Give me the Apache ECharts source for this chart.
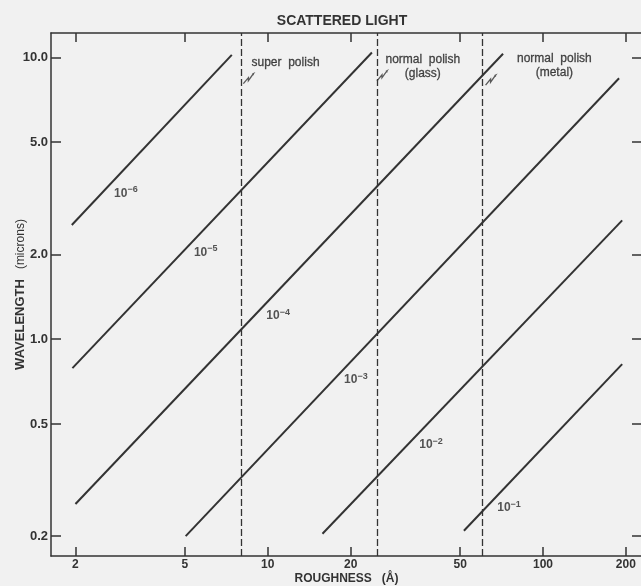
<!DOCTYPE html>
<html>
<head>
<meta charset="utf-8">
<script src="https://cdn.jsdelivr.net/npm/echarts@6/dist/echarts.min.js"></script>
<style>
html,body{margin:0;padding:0;background:#f1f1f1;}
#chart{width:641px;height:586px;}
</style>
</head>
<body>
<div id="chart"></div>
<script>
// Total integrated scatter levels (exponents of 10)
const scatterExponents = ['−6', '−5', '−4', '−3', '−2', '−1'];
// Line start points [roughness Å, wavelength µm]
const lineStart = [[1.94, 2.54], [1.95, 0.789], [2.0, 0.260], [5.03, 0.200], [15.8, 0.204], [51.6, 0.209]];
// Line end points [roughness Å, wavelength µm]
const lineEnd = [[7.40, 10.2], [23.9, 10.4], [71.6, 10.3], [189, 8.43], [194, 2.64], [194, 0.815]];
// Label anchors for each line [roughness, wavelength]
const labelAnchor = [[3.05, 3.29], [5.95, 2.03], [10.9, 1.21], [20.9, 0.716], [39.2, 0.421], [75.3, 0.252]];
// Polish class boundaries (roughness Å)
const polishBoundaries = [8, 25, 60];
// Polish class texts and anchors (text centres)
const polishText = ['super  polish', 'normal  polish\n(glass)', 'normal  polish\n(metal)'];
const polishAnchor = [[11.6, 9.6], [36.6, 9.29], [110, 9.36]];
const arrowAnchor = [[8.5, 8.4], [26.0, 8.6], [64.5, 8.3]];
// Tick values
const xTicks = [2, 5, 10, 20, 50, 100, 200];
const yTicks = [0.2, 0.5, 1.0, 2.0, 5.0, 10.0];
const xRange = [1.63, 229];
const yRange = [0.170, 12.2];

const chart = echarts.init(document.getElementById('chart'), null, {renderer: 'canvas'});
const FONT = 'Liberation Sans';
const INK = '#333333';

const series = [];
lineStart.forEach((s, i) => {
  series.push({
    type: 'line', xAxisIndex: 0, yAxisIndex: 0,
    data: [s, lineEnd[i]],
    symbol: 'none', silent: true,
    lineStyle: {color: INK, width: 2}
  });
});
series.push({
  type: 'scatter', xAxisIndex: 0, yAxisIndex: 0, symbolSize: 0, silent: true,
  data: labelAnchor.map((p, i) => ({value: p, exp: scatterExponents[i]})),
  label: {
    show: true, position: 'inside',
    formatter: (p) => '{b|10}{s|' + p.data.exp + '}',
    rich: {
      b: {fontFamily: FONT, fontSize: 12, color: '#2a2a2a', fontWeight: 'bold'},
      s: {fontFamily: FONT, fontSize: 9, color: '#2a2a2a', fontWeight: 'bold', padding: [0, 0, 7, 0]}
    }
  }
});
series.push({
  type: 'scatter', xAxisIndex: 0, yAxisIndex: 0, symbolSize: 0, silent: true,
  data: polishAnchor.map((p, i) => ({value: p, txt: polishText[i]})),
  label: {
    show: true, position: 'inside', align: 'center',
    formatter: (p) => p.data.txt,
    fontFamily: FONT, fontSize: 12, color: '#222', lineHeight: 14, textBorderColor: '#222', textBorderWidth: 0.3
  },
  markLine: {
    silent: true, symbol: 'none',
    label: {show: false},
    lineStyle: {color: INK, width: 1.3, type: [7, 3]},
    data: polishBoundaries.map(v => ({xAxis: v}))
  }
});
series.push({
  type: 'scatter', xAxisIndex: 0, yAxisIndex: 0, silent: true,
  symbol: 'path://M0,10 L5,4 L5,7 L10,0 L9,0.5 M10,0 L9.8,1.5',
  symbolSize: [10, 10],
  itemStyle: {color: 'none', borderColor: INK, borderWidth: 1.3},
  data: arrowAnchor
});

const logAxisX = (pos, showLabel) => ({
  type: 'log', position: pos, min: xRange[0], max: xRange[1],
  axisLine: {show: true, lineStyle: {color: INK, width: 1.5}},
  axisTick: {show: true, inside: true, length: 9, customValues: xTicks, lineStyle: {color: INK, width: 1.5}},
  minorTick: {show: false},
  splitLine: {show: false},
  axisLabel: {show: showLabel, customValues: xTicks, margin: 3, fontFamily: FONT, fontSize: 12, fontWeight: 'bold', color: INK,
    formatter: (v) => String(Math.round(v))}
});
const logAxisY = (pos, showLabel) => ({
  type: 'log', position: pos, min: yRange[0], max: yRange[1],
  axisLine: {show: true, lineStyle: {color: INK, width: 1.5}},
  axisTick: {show: true, inside: true, length: 10, customValues: yTicks, lineStyle: {color: INK, width: 1.5}},
  minorTick: {show: false},
  splitLine: {show: false},
  axisLabel: {show: showLabel, customValues: yTicks, margin: 3, fontFamily: FONT, fontSize: 13, fontWeight: 'bold', color: INK,
    formatter: (v) => Number(v).toFixed(1)}
});

const xa0 = logAxisX('bottom', true);
xa0.name = 'ROUGHNESS   (Å)';
xa0.nameLocation = 'middle';
xa0.nameGap = 17;
xa0.nameMoveOverlap = false;
xa0.nameTextStyle = {fontFamily: FONT, fontSize: 12, fontWeight: 'bold', color: INK};
const xa1 = logAxisX('top', false);
const ya0 = logAxisY('left', true);
ya0.name = '{w|WAVELENGTH}   {m|(microns)}';
ya0.nameLocation = 'middle';
ya0.nameGap = 24;
ya0.nameRotate = 90;
ya0.nameMoveOverlap = false;
ya0.nameTextStyle = {rich: {
  w: {fontFamily: FONT, fontSize: 13, fontWeight: 'bold', color: INK},
  m: {fontFamily: FONT, fontSize: 12, color: INK}
}};
const ya1 = logAxisY('right', false);

chart.setOption({
  backgroundColor: '#f1f1f1',
  animation: false,
  title: {
    text: 'SCATTERED LIGHT', left: 337, top: 9, textAlign: 'center',
    textStyle: {fontFamily: FONT, fontSize: 14, fontWeight: 'bold', color: INK}
  },
  grid: {left: 51, right: -1, top: 33, bottom: 30, containLabel: false, outerBoundsMode: 'none'},
  xAxis: [xa0, xa1],
  yAxis: [ya0, ya1],
  series: series
});
</script>
</body>
</html>
